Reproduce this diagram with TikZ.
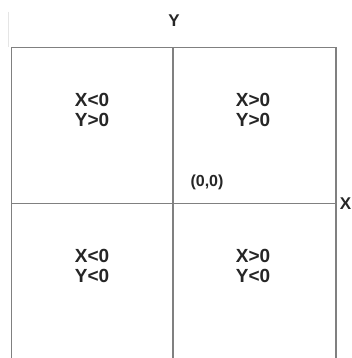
\documentclass[tikz,border=0pt]{standalone}
\usepackage{fontspec}
\setmainfont{Liberation Sans}
\begin{document}
\begin{tikzpicture}[x=1pt,y=-1pt,
  gridline/.style={draw=black!50,line width=1.6pt},
  faintline/.style={draw=black!10,line width=1pt},
  quad/.style={font=\fontsize{19}{20}\selectfont\bfseries,align=center,inner sep=0pt,text=black!85},
  axislabel/.style={font=\fontsize{17}{18}\selectfont\bfseries,inner sep=0pt,text=black!85},
  origin/.style={font=\fontsize{16}{18}\selectfont\bfseries,inner sep=0pt,text=black!85}]
\useasboundingbox[fill=white] (0,0) rectangle (351,358);
% corner coordinates
\coordinate (tl) at (11.5,47.5);
\coordinate (tr) at (336,47.5);
\coordinate (bl) at (11.5,358);
\coordinate (br) at (336,358);
\coordinate (tm) at (173,47.5);
\coordinate (bm) at (173,358);
\coordinate (ml) at (11.5,203.5);
\coordinate (mr) at (336,203.5);
\coordinate (f1) at (8,12);
\coordinate (f2) at (8,47);
% faint scan line
\draw[faintline] (f1) -- (f2);
% frame and axes
\draw[gridline] (bl) -- (tl) -- (tr) -- (br);
\draw[gridline] (tm) -- (bm);
\draw[gridline] (ml) -- (mr);
% labels
\node[axislabel] (ylab) at (174,21) {Y};
\node[axislabel] (xlab) at (345.5,204) {X};
\node[quad] (q2) at (92,110) {X<0\\Y>0};
\node[quad] (q1) at (253,110) {X>0\\Y>0};
\node[quad] (q3) at (92,266) {X<0\\Y<0};
\node[quad] (q4) at (253,266) {X>0\\Y<0};
\node[origin] (o) at (207,182) {(0,0)};
\end{tikzpicture}
\end{document}
